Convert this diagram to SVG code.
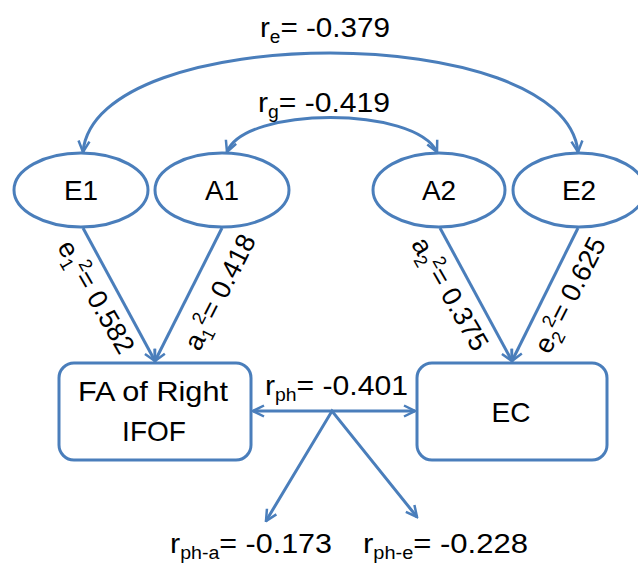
<svg xmlns="http://www.w3.org/2000/svg" width="638" height="565" viewBox="0 0 638 565">
<defs>
<style>
.n{fill:#fff;stroke:#4a7ebb;stroke-width:3}
.c{fill:none;stroke:#4a7ebb;stroke-width:3}
text{font-family:"Liberation Sans",Arial,sans-serif;font-size:28px;fill:#000}
.m{text-anchor:middle}
.s{font-size:18px}
.sl{font-size:27px}
</style>
<marker id="ar" viewBox="0 0 14 14" refX="12.5" refY="7" markerWidth="14" markerHeight="14" markerUnits="userSpaceOnUse" orient="auto-start-reverse">
<path d="M1.5,1.5 L12.5,7 L1.5,12.5" fill="none" stroke="#4a7ebb" stroke-width="2.5" stroke-linejoin="miter"/>
</marker>
</defs>
<rect width="638" height="565" fill="#fff"/>
<g id="connectors">
<path class="c" d="M83,152 C95,20 565,20 578,152" marker-start="url(#ar)" marker-end="url(#ar)"/>
<path class="c" d="M227,152 C245,106 415,106 437,152" marker-start="url(#ar)" marker-end="url(#ar)"/>
<line class="c" x1="83" y1="228" x2="155" y2="361" marker-end="url(#ar)"/>
<line class="c" x1="222" y1="228" x2="155" y2="361" marker-end="url(#ar)"/>
<line class="c" x1="440" y1="228" x2="512" y2="361" marker-end="url(#ar)"/>
<line class="c" x1="578" y1="228" x2="512" y2="361" marker-end="url(#ar)"/>
<line class="c" x1="253" y1="411" x2="415" y2="411" marker-start="url(#ar)" marker-end="url(#ar)"/>
<path class="c" d="M266,521 L332,411 L417,517" marker-start="url(#ar)" marker-end="url(#ar)"/>
<text x="260" y="37" textLength="130" lengthAdjust="spacingAndGlyphs">r<tspan class="s" dy="6">e</tspan><tspan dy="-6">= -0.379</tspan></text>
<text x="258" y="112" textLength="132" lengthAdjust="spacingAndGlyphs">r<tspan class="s" dy="6">g</tspan><tspan dy="-6">= -0.419</tspan></text>
<text class="m sl" transform="translate(96,297) rotate(60)" y="9">e<tspan class="s" dy="6">1</tspan><tspan class="s" dy="-16">2</tspan><tspan dy="10">= 0.582</tspan></text>
<text class="m sl" transform="translate(220,292) rotate(-63)" y="9">a<tspan class="s" dy="6">1</tspan><tspan class="s" dy="-16">2</tspan><tspan dy="10">= 0.418</tspan></text>
<text class="m sl" transform="translate(450,294) rotate(60)" y="9">a<tspan class="s" dy="6">2</tspan><tspan class="s" dy="-16">2</tspan><tspan dy="10">= 0.375</tspan></text>
<text class="m sl" transform="translate(570,295) rotate(-63)" y="9">e<tspan class="s" dy="6">2</tspan><tspan class="s" dy="-16">2</tspan><tspan dy="10">= 0.625</tspan></text>
<text x="265" y="395" textLength="143" lengthAdjust="spacingAndGlyphs">r<tspan class="s" dy="6">ph</tspan><tspan dy="-6">= -0.401</tspan></text>
<text x="170" y="553" textLength="162" lengthAdjust="spacingAndGlyphs">r<tspan class="s" dy="6">ph-a</tspan><tspan dy="-6">= -0.173</tspan></text>
<text x="363" y="553" textLength="165" lengthAdjust="spacingAndGlyphs">r<tspan class="s" dy="6">ph-e</tspan><tspan dy="-6">= -0.228</tspan></text>
</g>
<g id="E1"><ellipse class="n" cx="81" cy="190" rx="67" ry="37"/><text class="m" x="81" y="200">E1</text></g>
<g id="A1"><ellipse class="n" cx="222" cy="190" rx="67" ry="37"/><text class="m" x="222" y="200">A1</text></g>
<g id="A2"><ellipse class="n" cx="439" cy="190" rx="66" ry="37"/><text class="m" x="439" y="200">A2</text></g>
<g id="E2"><ellipse class="n" cx="579" cy="190" rx="66" ry="37"/><text class="m" x="579" y="200">E2</text></g>
<g id="FA"><rect class="n" x="59" y="363" width="192" height="97" rx="15"/><text class="m" x="153" y="401" textLength="150" lengthAdjust="spacingAndGlyphs">FA of Right</text><text class="m" x="154" y="441">IFOF</text></g>
<g id="EC"><rect class="n" x="417" y="363" width="190" height="97" rx="15"/><text class="m" x="511" y="422">EC</text></g>
</svg>
